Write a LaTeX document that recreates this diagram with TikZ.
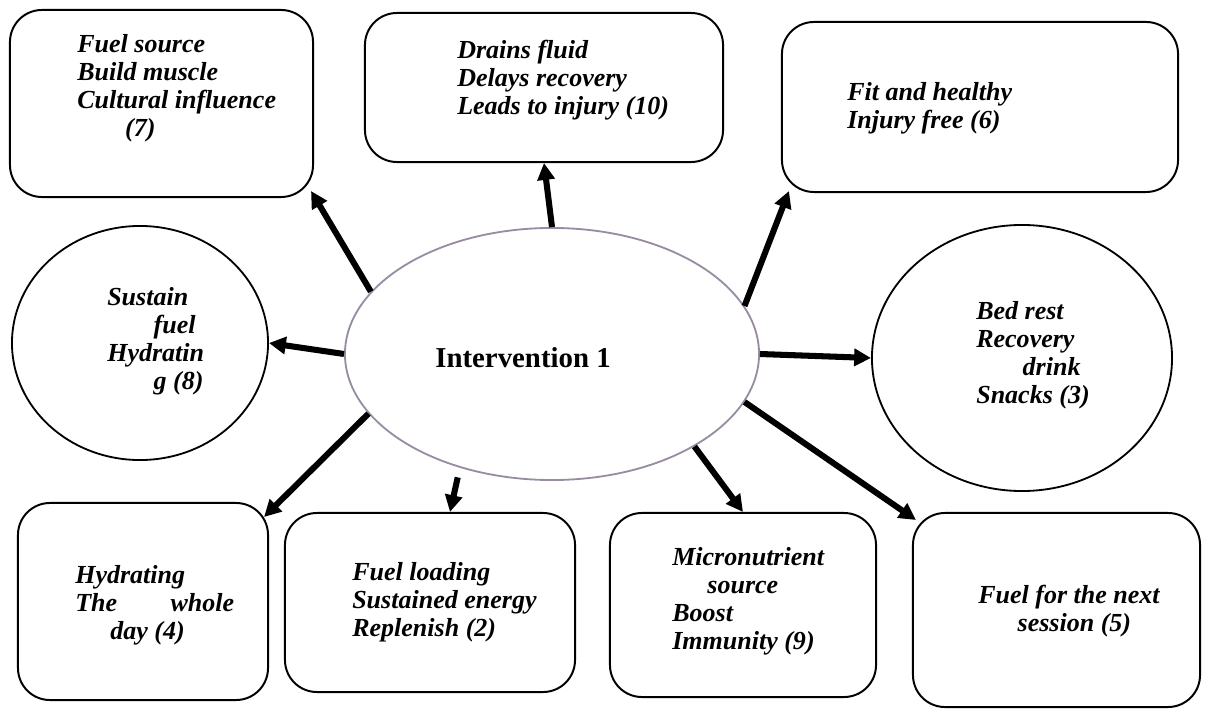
\documentclass[tikz,border=0pt]{standalone}
\usepackage{fontspec}
\setmainfont{Liberation Serif}
\usetikzlibrary{shapes.geometric,arrows.meta}
\definecolor{ringgray}{RGB}{152,140,162}
\tikzset{
  box/.style={draw, line width=1.4pt, rounded corners=0.8cm, inner sep=0pt},
  oval/.style={draw, ellipse, line width=1.3pt, inner sep=0pt},
  note/.style={anchor=west, align=left, inner sep=0pt,
    font=\fontsize{18.5}{20}\selectfont\bfseries\itshape},
  link/.style={line width=4.3pt, -{Triangle[length=12pt,width=12pt]}},
}
\begin{document}
\begin{tikzpicture}[x=0.025cm,y=-0.025cm]
\useasboundingbox (0,0) rectangle (1205,709);

% centre
\node[oval, draw=ringgray, minimum width=10.35cm, minimum height=6.3cm] (int) at (552,354) {};
\node[font=\fontsize{20.5}{24}\selectfont\bfseries] (intlbl) at (523,358) {Intervention 1};

% outcomes, top row
\node[box, minimum width=7.575cm, minimum height=4.675cm] (b7) at (161.5,103.5) {};
\node[note] (t7) at (77,88) {Fuel source\\Build muscle\\Cultural influence\\\hspace*{34pt}(7)};

\node[box, minimum width=8.95cm, minimum height=3.725cm] (b10) at (544,87.5) {};
\node[note] (t10) at (457,80) {Drains fluid\\Delays recovery\\Leads to injury (10)};

\node[box, minimum width=9.9cm, minimum height=4.25cm] (b6) at (980,107) {};
\node[note] (t6) at (847,108.5) {Fit and healthy\\Injury free (6)};

% outcomes, sides
\node[oval, minimum width=6.4cm, minimum height=5.85cm] (c8) at (140,343) {};
\node[note] (t8) at (107,341.5) {Sustain\\\hspace*{33pt}fuel\\Hydratin\\\hspace*{33pt}g (8)};

\node[oval, minimum width=7.5cm, minimum height=6.65cm] (c3) at (1022,358) {};
\node[note] (t3) at (976,355) {Bed rest\\Recovery\\\hspace*{33pt}drink\\Snacks (3)};

% outcomes, bottom row
\node[box, minimum width=6.25cm, minimum height=4.925cm] (b4) at (143,601.5) {};
\node[note] (t4) at (75,605.5) {Hydrating\\\makebox[113pt][s]{The whole}\\\hspace*{25pt}day (4)};

\node[box, minimum width=7.25cm, minimum height=4.475cm] (b2) at (430,602.5) {};
\node[note] (t2) at (352,602.5) {Fuel loading\\Sustained energy\\Replenish (2)};

\node[box, minimum width=6.65cm, minimum height=4.6cm] (b9) at (743,605) {};
\node[note] (t9) at (672,601.5) {Micronutrient\\\hspace*{25pt}source\\Boost\\Immunity (9)};

\node[box, minimum width=7.175cm, minimum height=4.85cm] (b5) at (1056.5,610) {};
\node[note] (t5) at (978,611.5) {Fuel for the next\\\hspace*{28pt}session (5)};

% arrows
\draw[link] (int.161) -- ([shift={(-3,-7)}]b7.south east);
\draw[link] (int.90) -- (b10.south);
\draw[link] (int.14) -- ([shift={(8,-2)}]b6.south west);
\draw[link] (int.180) -- (c8.east);
\draw[link] (int.0) -- (c3.west);
\draw[link] (int.198) -- ([shift={(-5,15)}]b4.north east);
\draw[link, shorten <=7pt] (int.231) -- ([shift={(20,0)}]b2.north);
\draw[link] (int.327) -- (b9.north);
\draw[link] (int.346) -- ([shift={(4,8)}]b5.north west);
\end{tikzpicture}
\end{document}
